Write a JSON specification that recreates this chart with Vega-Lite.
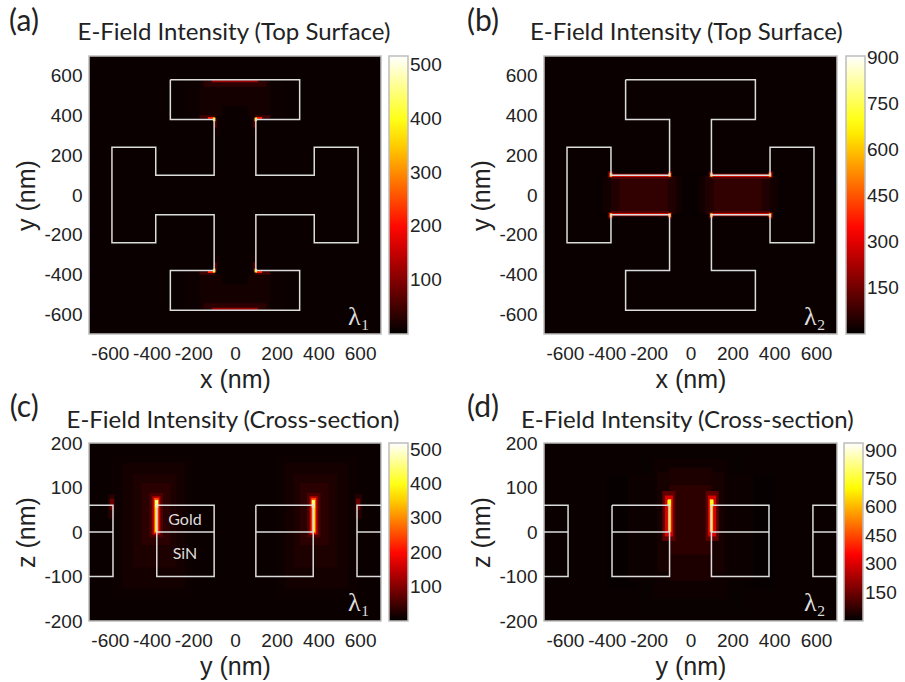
{"$schema":"https://vega.github.io/schema/vega-lite/v6.json","autosize":{"type":"none"},"padding":{"left":89,"top":56,"right":816,"bottom":626},"background":"white","spacing":{"row":109,"column":163},"columns":2,"bounds":"flush",
"config":{"view":{"stroke":"#bdbdbd","strokeWidth":1.5,"fill":"#0a0000"},
"axis":{"ticks":false,"grid":false,"domain":false,"labelFont":"Liberation Sans","labelFontSize":19,"labelColor":"#222222","titleFont":"Liberation Sans","titleFontSize":25,"titleFontWeight":"normal","titleColor":"#222222","labelOverlap":false},
"axisX":{"labelPadding":10,"titlePadding":4},"axisY":{"labelPadding":7,"titlePadding":4},
"legend":{"gradientStrokeColor":"#bdbdbd","gradientStrokeWidth":1.5,"labelFont":"Liberation Sans","labelFontSize":19,"labelColor":"#222222","gradientThickness":19,"labelOffset":5,"padding":0}},
"datasets":{
"cross":[{"o":1,"x":-310,"y":580},{"o":2,"x":310,"y":580},{"o":3,"x":310,"y":380},{"o":4,"x":100,"y":380},{"o":5,"x":100,"y":100},{"o":6,"x":380,"y":100},{"o":7,"x":380,"y":240},{"o":8,"x":590,"y":240},{"o":9,"x":590,"y":-240},{"o":10,"x":380,"y":-240},{"o":11,"x":380,"y":-100},{"o":12,"x":100,"y":-100},{"o":13,"x":100,"y":-380},{"o":14,"x":310,"y":-380},{"o":15,"x":310,"y":-580},{"o":16,"x":-310,"y":-580},{"o":17,"x":-310,"y":-380},{"o":18,"x":-100,"y":-380},{"o":19,"x":-100,"y":-100},{"o":20,"x":-380,"y":-100},{"o":21,"x":-380,"y":-240},{"o":22,"x":-590,"y":-240},{"o":23,"x":-590,"y":240},{"o":24,"x":-380,"y":240},{"o":25,"x":-380,"y":100},{"o":26,"x":-100,"y":100},{"o":27,"x":-100,"y":380},{"o":28,"x":-310,"y":380},{"o":29,"x":-310,"y":580}],
"section":[{"g":"a","o":1,"x":-700,"y":60},{"g":"a","o":2,"x":-585,"y":60},{"g":"a","o":3,"x":-585,"y":-100},{"g":"a","o":4,"x":-700,"y":-100},{"g":"b","o":1,"x":-700,"y":0},{"g":"b","o":2,"x":-585,"y":0},{"g":"c","o":1,"x":-375,"y":60},{"g":"c","o":2,"x":-100,"y":60},{"g":"c","o":3,"x":-100,"y":-100},{"g":"c","o":4,"x":-375,"y":-100},{"g":"c","o":5,"x":-375,"y":60},{"g":"d","o":1,"x":-375,"y":0},{"g":"d","o":2,"x":-100,"y":0},{"g":"e","o":1,"x":100,"y":60},{"g":"e","o":2,"x":375,"y":60},{"g":"e","o":3,"x":375,"y":-100},{"g":"e","o":4,"x":100,"y":-100},{"g":"e","o":5,"x":100,"y":60},{"g":"f","o":1,"x":100,"y":0},{"g":"f","o":2,"x":375,"y":0},{"g":"h","o":1,"x":700,"y":60},{"g":"h","o":2,"x":585,"y":60},{"g":"h","o":3,"x":585,"y":-100},{"g":"h","o":4,"x":700,"y":-100},{"g":"i","o":1,"x":700,"y":0},{"g":"i","o":2,"x":585,"y":0}]
},
"concat":[
{"width":292,"height":278,"layer":[
{"data":{"values":[
{"x0":-240,"x1":240,"y0":385,"y1":575,"v":9},{"x0":-240,"x1":240,"y0":-575,"y1":-385,"v":9},
{"x0":-170,"x1":170,"y0":400,"y1":575,"v":16},{"x0":-170,"x1":170,"y0":-575,"y1":-400,"v":16},
{"x0":-60,"x1":60,"y0":385,"y1":450,"v":8},{"x0":-60,"x1":60,"y0":-450,"y1":-385,"v":8},
{"x0":-150,"x1":150,"y0":545,"y1":575,"v":32},{"x0":-150,"x1":150,"y0":-575,"y1":-545,"v":32},
{"x0":-110,"x1":110,"y0":568,"y1":578,"v":120},{"x0":-110,"x1":110,"y0":-578,"y1":-568,"v":120},
{"x0":-100,"x1":-75,"y0":300,"y1":385,"v":14},{"x0":75,"x1":100,"y0":300,"y1":385,"v":14},{"x0":-100,"x1":-75,"y0":-385,"y1":-300,"v":14},{"x0":75,"x1":100,"y0":-385,"y1":-300,"v":14},
{"x0":-170,"x1":-95,"y0":385,"y1":402,"v":48},{"x0":95,"x1":170,"y0":385,"y1":402,"v":48},{"x0":-170,"x1":-95,"y0":-402,"y1":-385,"v":48},{"x0":95,"x1":170,"y0":-402,"y1":-385,"v":48},
{"x0":-100,"x1":-88,"y0":340,"y1":385,"v":70},{"x0":88,"x1":100,"y0":340,"y1":385,"v":70},{"x0":-100,"x1":-88,"y0":-385,"y1":-340,"v":70},{"x0":88,"x1":100,"y0":-385,"y1":-340,"v":70},
{"x0":-130,"x1":-100,"y0":383,"y1":393,"v":210},{"x0":100,"x1":130,"y0":383,"y1":393,"v":210},{"x0":-130,"x1":-100,"y0":-393,"y1":-383,"v":210},{"x0":100,"x1":130,"y0":-393,"y1":-383,"v":210},
{"x0":-106,"x1":-94,"y0":372,"y1":390,"v":400},{"x0":94,"x1":106,"y0":372,"y1":390,"v":400},{"x0":-106,"x1":-94,"y0":-390,"y1":-372,"v":400},{"x0":94,"x1":106,"y0":-390,"y1":-372,"v":400}
]},"mark":{"type":"rect"},"encoding":{"x":{"field":"x0","type":"quantitative","scale":{"domain":[-700,700],"nice":false},"axis":{"values":[-600,-400,-200,0,200,400,600],"title":"x (nm)","labelExpr":"''+datum.value"}},"x2":{"field":"x1"},"y":{"field":"y0","type":"quantitative","scale":{"domain":[-700,700],"nice":false},"axis":{"values":[-600,-400,-200,0,200,400,600],"title":"y (nm)","labelExpr":"''+datum.value"}},"y2":{"field":"y1"},"color":{"field":"v","type":"quantitative","scale":{"domain":[0,194,388,517],"range":["#000000","#ff0000","#ffff00","#ffffff"],"interpolate":"rgb"},"legend":{"title":null,"values":[100,200,300,400,500],"gradientLength":278,"orient":"none","legendX":300,"legendY":0}}}},
{"data":{"name":"cross"},"mark":{"type":"line","color":"#dcdcdc","strokeWidth":1.5,"interpolate":"linear"},"encoding":{"x":{"field":"x","type":"quantitative"},"y":{"field":"y","type":"quantitative"},"order":{"field":"o"}}},
{"data":{"values":[{"x":-1083,"y":871,"t":"(a)"}]},"mark":{"type":"text","font":"Lato","fontSize":30,"align":"left","color":"#222222"},"encoding":{"x":{"field":"x","type":"quantitative"},"y":{"field":"y","type":"quantitative"},"text":{"field":"t"}}},
{"data":{"values":[{"x":-5,"y":780,"t":"E-Field Intensity (Top Surface)"}]},"mark":{"type":"text","font":"Lato","fontSize":24,"baseline":"alphabetic","color":"#222222"},"encoding":{"x":{"field":"x","type":"quantitative"},"y":{"field":"y","type":"quantitative"},"text":{"field":"t"}}},
{"data":{"values":[{"x":594,"y":-614,"t":"λ₁"}]},"mark":{"type":"text","font":"Liberation Serif","fontSize":26,"color":"#dddddd"},"encoding":{"x":{"field":"x","type":"quantitative"},"y":{"field":"y","type":"quantitative"},"text":{"field":"t"}}}
]},
{"width":293,"height":278,"layer":[
{"data":{"values":[
{"x0":-450,"x1":450,"y0":-110,"y1":110,"v":10},
{"x0":-420,"x1":-40,"y0":-92,"y1":92,"v":24},{"x0":40,"x1":420,"y0":-92,"y1":92,"v":24},
{"x0":-380,"x1":-70,"y0":-96,"y1":96,"v":42},{"x0":70,"x1":380,"y0":-96,"y1":96,"v":42},
{"x0":-340,"x1":-110,"y0":-96,"y1":96,"v":65},{"x0":110,"x1":340,"y0":-96,"y1":96,"v":65},
{"x0":-380,"x1":-100,"y0":80,"y1":98,"v":105},{"x0":100,"x1":380,"y0":80,"y1":98,"v":105},{"x0":-380,"x1":-100,"y0":-98,"y1":-80,"v":105},{"x0":100,"x1":380,"y0":-98,"y1":-80,"v":105},
{"x0":-380,"x1":-100,"y0":92,"y1":110,"v":80},{"x0":100,"x1":380,"y0":92,"y1":110,"v":80},{"x0":-380,"x1":-100,"y0":-110,"y1":-92,"v":80},{"x0":100,"x1":380,"y0":-110,"y1":-92,"v":80},
{"x0":-380,"x1":-100,"y0":92,"y1":103,"v":360},{"x0":100,"x1":380,"y0":92,"y1":103,"v":360},{"x0":-380,"x1":-100,"y0":-103,"y1":-92,"v":360},{"x0":100,"x1":380,"y0":-103,"y1":-92,"v":360},
{"x0":-392,"x1":-372,"y0":88,"y1":118,"v":220},{"x0":372,"x1":392,"y0":88,"y1":118,"v":220},{"x0":-392,"x1":-372,"y0":-118,"y1":-88,"v":220},{"x0":372,"x1":392,"y0":-118,"y1":-88,"v":220},
{"x0":-108,"x1":-88,"y0":88,"y1":118,"v":160},{"x0":88,"x1":108,"y0":88,"y1":118,"v":160},{"x0":-108,"x1":-88,"y0":-118,"y1":-88,"v":160},{"x0":88,"x1":108,"y0":-118,"y1":-88,"v":160},
{"x0":-386,"x1":-374,"y0":92,"y1":110,"v":600},{"x0":374,"x1":386,"y0":92,"y1":110,"v":600},{"x0":-386,"x1":-374,"y0":-110,"y1":-92,"v":600},{"x0":374,"x1":386,"y0":-110,"y1":-92,"v":600},
{"x0":-106,"x1":-94,"y0":92,"y1":110,"v":600},{"x0":94,"x1":106,"y0":92,"y1":110,"v":600},{"x0":-106,"x1":-94,"y0":-110,"y1":-92,"v":600},{"x0":94,"x1":106,"y0":-110,"y1":-92,"v":600}
]},"mark":{"type":"rect"},"encoding":{"x":{"field":"x0","type":"quantitative","scale":{"domain":[-700,700],"nice":false},"axis":{"values":[-600,-400,-200,0,200,400,600],"title":"x (nm)","labelExpr":"''+datum.value"}},"x2":{"field":"x1"},"y":{"field":"y0","type":"quantitative","scale":{"domain":[-700,700],"nice":false},"axis":{"values":[-600,-400,-200,0,200,400,600],"title":"y (nm)","labelExpr":"''+datum.value"}},"y2":{"field":"y1"},"color":{"field":"v","type":"quantitative","scale":{"domain":[0,339,679,905],"range":["#000000","#ff0000","#ffff00","#ffffff"],"interpolate":"rgb"},"legend":{"title":null,"values":[150,300,450,600,750,900],"gradientLength":278,"orient":"none","legendX":302,"legendY":0}}}},
{"data":{"name":"cross"},"mark":{"type":"line","color":"#dcdcdc","strokeWidth":1.5},"encoding":{"x":{"field":"x","type":"quantitative"},"y":{"field":"y","type":"quantitative"},"order":{"field":"o"}}},
{"data":{"values":[{"x":-1068,"y":871,"t":"(b)"}]},"mark":{"type":"text","font":"Lato","fontSize":30,"align":"left","color":"#222222"},"encoding":{"x":{"field":"x","type":"quantitative"},"y":{"field":"y","type":"quantitative"},"text":{"field":"t"}}},
{"data":{"values":[{"x":-20,"y":780,"t":"E-Field Intensity (Top Surface)"}]},"mark":{"type":"text","font":"Lato","fontSize":24,"baseline":"alphabetic","color":"#222222"},"encoding":{"x":{"field":"x","type":"quantitative"},"y":{"field":"y","type":"quantitative"},"text":{"field":"t"}}},
{"data":{"values":[{"x":594,"y":-614,"t":"λ₂"}]},"mark":{"type":"text","font":"Liberation Serif","fontSize":26,"color":"#dddddd"},"encoding":{"x":{"field":"x","type":"quantitative"},"y":{"field":"y","type":"quantitative"},"text":{"field":"t"}}}
]},
{"width":292,"height":178,"layer":[
{"data":{"values":[
{"x0":-590,"x1":-200,"y0":-150,"y1":175,"v":10},{"x0":200,"x1":590,"y0":-150,"y1":175,"v":10},
{"x0":-540,"x1":-240,"y0":-125,"y1":155,"v":16},{"x0":240,"x1":540,"y0":-125,"y1":155,"v":16},
{"x0":-490,"x1":-280,"y0":-80,"y1":130,"v":22},{"x0":280,"x1":490,"y0":-80,"y1":130,"v":22},
{"x0":-450,"x1":-310,"y0":-30,"y1":110,"v":32},{"x0":310,"x1":450,"y0":-30,"y1":110,"v":32},
{"x0":-610,"x1":-575,"y0":30,"y1":85,"v":28},{"x0":575,"x1":610,"y0":30,"y1":85,"v":28},
{"x0":-600,"x1":-580,"y0":50,"y1":75,"v":80},{"x0":580,"x1":600,"y0":50,"y1":75,"v":80},
{"x0":-410,"x1":-345,"y0":-12,"y1":88,"v":60},{"x0":345,"x1":410,"y0":-12,"y1":88,"v":60},
{"x0":-396,"x1":-358,"y0":-6,"y1":80,"v":150},{"x0":358,"x1":396,"y0":-6,"y1":80,"v":150},
{"x0":-388,"x1":-366,"y0":-3,"y1":76,"v":260},{"x0":366,"x1":388,"y0":-3,"y1":76,"v":260},
{"x0":-384,"x1":-372,"y0":0,"y1":60,"v":370},{"x0":372,"x1":384,"y0":0,"y1":60,"v":370},
{"x0":-384,"x1":-368,"y0":55,"y1":72,"v":450},{"x0":368,"x1":384,"y0":55,"y1":72,"v":450}
]},"mark":{"type":"rect"},"encoding":{"x":{"field":"x0","type":"quantitative","scale":{"domain":[-700,700],"nice":false},"axis":{"values":[-600,-400,-200,0,200,400,600],"title":"y (nm)","labelExpr":"''+datum.value"}},"x2":{"field":"x1"},"y":{"field":"y0","type":"quantitative","scale":{"domain":[-200,200],"nice":false},"axis":{"values":[-200,-100,0,100,200],"title":"z (nm)","labelExpr":"''+datum.value"}},"y2":{"field":"y1"},"color":{"field":"v","type":"quantitative","scale":{"domain":[0,195,390,520],"range":["#000000","#ff0000","#ffff00","#ffffff"],"interpolate":"rgb"},"legend":{"title":null,"values":[100,200,300,400,500],"gradientLength":178,"orient":"none","legendX":300,"legendY":0}}}},
{"data":{"name":"section"},"mark":{"type":"line","color":"#dcdcdc","strokeWidth":1.5},"encoding":{"x":{"field":"x","type":"quantitative"},"y":{"field":"y","type":"quantitative"},"detail":{"field":"g"},"order":{"field":"o"}}},
{"data":{"values":[{"x":-1080,"y":279,"t":"(c)"}]},"mark":{"type":"text","font":"Lato","fontSize":30,"align":"left","color":"#222222"},"encoding":{"x":{"field":"x","type":"quantitative"},"y":{"field":"y","type":"quantitative"},"text":{"field":"t"}}},
{"data":{"values":[{"x":-10,"y":234,"t":"E-Field Intensity (Cross-section)"}]},"mark":{"type":"text","font":"Lato","fontSize":24,"baseline":"alphabetic","color":"#222222"},"encoding":{"x":{"field":"x","type":"quantitative"},"y":{"field":"y","type":"quantitative"},"text":{"field":"t"}}},
{"data":{"values":[{"x":594,"y":-160,"t":"λ₁"}]},"mark":{"type":"text","font":"Liberation Serif","fontSize":26,"color":"#dddddd"},"encoding":{"x":{"field":"x","type":"quantitative"},"y":{"field":"y","type":"quantitative"},"text":{"field":"t"}}},
{"data":{"values":[{"x":-240,"y":27,"t":"Gold"},{"x":-240,"y":-50,"t":"SiN"}]},"mark":{"type":"text","font":"Lato","fontSize":16,"color":"#dddddd"},"encoding":{"x":{"field":"x","type":"quantitative"},"y":{"field":"y","type":"quantitative"},"text":{"field":"t"}}}
]},
{"width":293,"height":178,"layer":[
{"data":{"values":[
{"x0":-400,"x1":400,"y0":-130,"y1":130,"v":10},{"x0":-260,"x1":260,"y0":-185,"y1":185,"v":12},
{"x0":-300,"x1":300,"y0":-110,"y1":130,"v":16},{"x0":-180,"x1":180,"y0":-150,"y1":165,"v":20},
{"x0":-160,"x1":160,"y0":-90,"y1":135,"v":30},{"x0":-100,"x1":100,"y0":-110,"y1":145,"v":38},
{"x0":-100,"x1":100,"y0":-50,"y1":105,"v":62},
{"x0":-135,"x1":-72,"y0":-20,"y1":92,"v":130},{"x0":72,"x1":135,"y0":-20,"y1":92,"v":130},
{"x0":-122,"x1":-84,"y0":-10,"y1":82,"v":300},{"x0":84,"x1":122,"y0":-10,"y1":82,"v":300},
{"x0":-108,"x1":-92,"y0":0,"y1":74,"v":600},{"x0":92,"x1":108,"y0":0,"y1":74,"v":600},
{"x0":-110,"x1":-94,"y0":58,"y1":72,"v":740},{"x0":94,"x1":110,"y0":58,"y1":72,"v":740}
]},"mark":{"type":"rect"},"encoding":{"x":{"field":"x0","type":"quantitative","scale":{"domain":[-700,700],"nice":false},"axis":{"values":[-600,-400,-200,0,200,400,600],"title":"y (nm)","labelExpr":"''+datum.value"}},"x2":{"field":"x1"},"y":{"field":"y0","type":"quantitative","scale":{"domain":[-200,200],"nice":false},"axis":{"values":[-200,-100,0,100,200],"title":"z (nm)","labelExpr":"''+datum.value"}},"y2":{"field":"y1"},"color":{"field":"v","type":"quantitative","scale":{"domain":[0,352,705,940],"range":["#000000","#ff0000","#ffff00","#ffffff"],"interpolate":"rgb"},"legend":{"title":null,"values":[150,300,450,600,750,900],"gradientLength":178,"orient":"none","legendX":300,"legendY":0}}}},
{"data":{"name":"section"},"mark":{"type":"line","color":"#dcdcdc","strokeWidth":1.5},"encoding":{"x":{"field":"x","type":"quantitative"},"y":{"field":"y","type":"quantitative"},"detail":{"field":"g"},"order":{"field":"o"}}},
{"data":{"values":[{"x":-1068,"y":279,"t":"(d)"}]},"mark":{"type":"text","font":"Lato","fontSize":30,"align":"left","color":"#222222"},"encoding":{"x":{"field":"x","type":"quantitative"},"y":{"field":"y","type":"quantitative"},"text":{"field":"t"}}},
{"data":{"values":[{"x":-15,"y":234,"t":"E-Field Intensity (Cross-section)"}]},"mark":{"type":"text","font":"Lato","fontSize":24,"baseline":"alphabetic","color":"#222222"},"encoding":{"x":{"field":"x","type":"quantitative"},"y":{"field":"y","type":"quantitative"},"text":{"field":"t"}}},
{"data":{"values":[{"x":594,"y":-160,"t":"λ₂"}]},"mark":{"type":"text","font":"Liberation Serif","fontSize":26,"color":"#dddddd"},"encoding":{"x":{"field":"x","type":"quantitative"},"y":{"field":"y","type":"quantitative"},"text":{"field":"t"}}}
]}
],
"resolve":{"scale":{"color":"independent"}}}
